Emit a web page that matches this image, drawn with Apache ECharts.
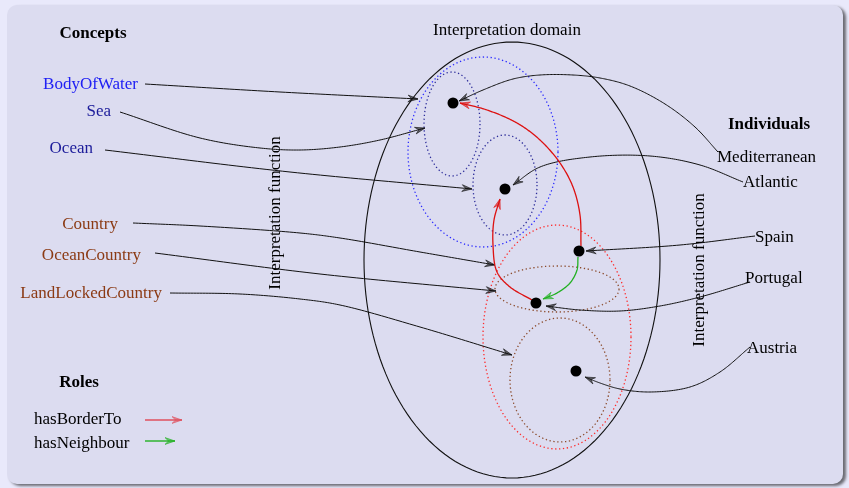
<!DOCTYPE html>
<html>
<head>
<meta charset="utf-8">
<script src="https://cdn.jsdelivr.net/npm/echarts@6/dist/echarts.min.js"></script>
<style>
html, body { margin: 0; padding: 0; background: #e9e9fb; }
#main { width: 849px; height: 488px; }
</style>
</head>
<body>
<div id="main"></div>
<script>
// concepts on the left, label anchored at its right end
var conceptNames = ['BodyOfWater', 'Sea', 'Ocean', 'Country', 'OceanCountry', 'LandLockedCountry'];
var conceptColors = ['#2020f4', '#1c1c9a', '#1c1c9a', '#8b3a14', '#8b3a14', '#8b3a14'];
var conceptLabelPos = [[138, 83], [111, 110], [93, 147], [118, 223], [141, 254], [162, 292]];
// interpreted sets: cx, cy, rx, ry
var conceptSets = [[483, 152, 75, 95], [452, 124, 28, 52], [505, 185, 32, 50], [557, 337, 74, 112], [557, 289, 62, 23], [560, 380, 50, 62]];
var setColors = ['#2a2aff', '#2d2d9a', '#2d2d9a', '#ff2a2a', '#8b4a2a', '#8b4a2a'];
var domainSet = [512, 260, 148, 218];
var conceptLinks = [
	[[145, 84], [280, 92], [418, 99]],
	[[120, 112], [200, 138], [260, 148], [300, 150], [340, 147], [380, 140], [425, 128]],
	[[105, 150], [290, 172], [472, 189]],
	[[133, 223], [200, 226], [300, 233], [340, 238], [420, 252], [495, 265]],
	[[155, 253], [320, 274], [496, 291]],
	[[170, 293], [240, 294], [300, 299], [340, 305], [420, 327], [512, 355]]
];

// individuals on the right, label anchored at its left end
var individualNames = ['Mediterranean', 'Atlantic', 'Spain', 'Portugal', 'Austria'];
var individualLabelPos = [[717, 156], [743, 181], [755, 236], [745, 277], [747, 347]];
var individualDots = [[453, 103], [505, 189], [579, 251], [536, 303], [576, 371]];
var individualLinks = [
	[[718, 152], [695, 127], [665, 104], [630, 86], [600, 78], [573, 75], [540, 75], [513, 79], [483, 90], [459, 101]],
	[[743, 182], [700, 165], [650, 156], [590, 157], [540, 167], [513, 185]],
	[[755, 236], [680, 245], [586, 251]],
	[[750, 282], [700, 297], [660, 306], [620, 311], [580, 310], [546, 306]],
	[[750, 347], [720, 372], [690, 387], [650, 392], [620, 389], [600, 383], [585, 377]]
];

// roles
var roleNames = ['hasBorderTo', 'hasNeighbour'];
var roleColors = ['#dd1111', '#22b022'];
var roleLegendColors = ['#e0505e', '#22b022'];
var roleLabelPos = [[34, 418], [34, 442]];
var roleLegendArrows = [[[145, 420], [182, 420]], [[145, 441], [175, 441]]];
var roleLinks = [
	[[581, 246], [580, 215], [573, 187], [560, 163], [540, 140], [517, 123], [487, 110], [460, 103]],
	[[532, 300], [510, 287], [497, 272], [493, 245], [494, 220], [500, 199]],
	[[578, 257], [577, 270], [570, 283], [557, 293], [543, 299]]
];
var roleLinkType = [0, 0, 1];

var headings = [
	{ name: 'Concepts', value: [93, 32], bold: true, rot: 0 },
	{ name: 'Individuals', value: [769, 123], bold: true, rot: 0 },
	{ name: 'Roles', value: [79, 381], bold: true, rot: 0 },
	{ name: 'Interpretation domain', value: [507, 29], bold: false, rot: 0 },
	{ name: 'Interpretation function', value: [276, 213], bold: false, rot: 90 },
	{ name: 'Interpretation function', value: [700, 270], bold: false, rot: 90 }
];

var FONT = '"Liberation Serif", "Times New Roman", serif';
var TEXT_DY = 2;

// centripetal catmull-rom through the pixel waypoints
function spline(pts, seg) {
	var n = pts.length;
	if (n < 3) return pts;
	var p = [[2 * pts[0][0] - pts[1][0], 2 * pts[0][1] - pts[1][1]]].concat(pts,
		[[2 * pts[n - 1][0] - pts[n - 2][0], 2 * pts[n - 1][1] - pts[n - 2][1]]]);
	var out = [];
	function d(a, b) { return Math.max(Math.pow(Math.hypot(b[0] - a[0], b[1] - a[1]), 0.5), 1e-4); }
	function mix(a, b, ta, tb, t) {
		var u = (t - ta) / (tb - ta);
		return [a[0] + (b[0] - a[0]) * u, a[1] + (b[1] - a[1]) * u];
	}
	for (var i = 1; i < p.length - 2; i++) {
		var P0 = p[i - 1], P1 = p[i], P2 = p[i + 1], P3 = p[i + 2];
		var t0 = 0, t1 = t0 + d(P0, P1), t2 = t1 + d(P1, P2), t3 = t2 + d(P2, P3);
		for (var k = 0; k < seg; k++) {
			var t = t1 + (t2 - t1) * k / seg;
			var A1 = mix(P0, P1, t0, t1, t), A2 = mix(P1, P2, t1, t2, t), A3 = mix(P2, P3, t2, t3, t);
			var B1 = mix(A1, A2, t0, t2, t), B2 = mix(A2, A3, t1, t3, t);
			out.push(mix(B1, B2, t1, t2, t));
		}
	}
	out.push(pts[n - 1]);
	return out;
}

function arrowHead(pts, color) {
	var tip = pts[pts.length - 1];
	var from = pts[0];
	for (var j = pts.length - 2; j >= 0; j--) {
		from = pts[j];
		if (Math.hypot(tip[0] - from[0], tip[1] - from[1]) > 7) break;
	}
	var dx = tip[0] - from[0], dy = tip[1] - from[1];
	var len = Math.sqrt(dx * dx + dy * dy) || 1;
	dx /= len; dy /= len;
	var L = 10, W = 3.4;
	var bx = tip[0] - dx * L, by = tip[1] - dy * L;
	return {
		type: 'polygon',
		shape: { points: [[bx + dy * W, by - dx * W], tip, [bx - dy * W, by + dx * W], [tip[0] - dx * L * 0.65, tip[1] - dy * L * 0.65]] },
		style: { fill: color, opacity: 0.6, stroke: color, lineWidth: 1 }
	};
}

function linkSeries(name, links, colorOf, width) {
	return {
		type: 'custom',
		name: name,
		coordinateSystem: 'cartesian2d',
		data: links.map(function(l, i) { return [l[0][0], l[0][1], i]; }),
		renderItem: function(params, api) {
			var i = params.dataIndex;
			var pts = spline(links[i].map(function(p) { return api.coord(p); }), 24);
			var c = colorOf(i);
			return {
				type: 'group',
				children: [{
					type: 'polyline',
					shape: { points: pts },
					style: { stroke: c, lineWidth: width, fill: null }
				}, arrowHead(pts, c)]
			};
		},
		z: 3,
		silent: true
	};
}

function ellipsePoints(api, cx, cy, rx, ry) {
	var c = api.coord([cx, cy]);
	var s = api.size([rx, ry]);
	var pts = [];
	for (var k = 0; k < 160; k++) {
		var a = k / 160 * Math.PI * 2;
		pts.push([c[0] + s[0] * Math.cos(a), c[1] + s[1] * Math.sin(a)]);
	}
	return pts;
}

function textSeries(name, data, pos, color, offset) {
	return {
		type: 'scatter',
		name: name,
		symbolSize: 0,
		itemStyle: { opacity: 1 },
		data: data,
		label: { show: true, position: pos, distance: 0, offset: offset, formatter: '{b}', fontFamily: FONT, fontSize: 17, color: color },
		silent: true,
		z: 6
	};
}

var allSets = [domainSet].concat(conceptSets);

var chartDom = document.getElementById('main');
var myChart = echarts.init(chartDom, null, { renderer: 'canvas' });
var option = {
	animation: false,
	backgroundColor: '#e9e9fb',
	grid: { left: 0, right: 0, top: 0, bottom: 0 },
	xAxis: { type: 'value', min: 0, max: 849, show: false },
	yAxis: { type: 'value', min: 0, max: 488, inverse: true, show: false },
	graphic: [{
		type: 'rect',
		z: -10,
		shape: { x: 7, y: 5, width: 836, height: 479, r: 10 },
		style: { fill: '#dcdcf0', shadowBlur: 3, shadowOffsetX: 3, shadowOffsetY: 2, shadowColor: 'rgba(0,0,0,0.55)' }
	}],
	series: [
		{
			type: 'custom',
			name: 'sets',
			coordinateSystem: 'cartesian2d',
			data: allSets,
			renderItem: function(params, api) {
				var i = params.dataIndex;
				var pts = ellipsePoints(api, api.value(0), api.value(1), api.value(2), api.value(3));
				if (i == 0) {
					return { type: 'polygon', shape: { points: pts }, style: { fill: null, stroke: '#111', lineWidth: 1.1 } };
				}
				return {
					type: 'polygon',
					shape: { points: pts },
					style: { fill: null, stroke: setColors[i - 1], lineWidth: 1.3, lineDash: [1.3, 2.6] }
				};
			},
			z: 2,
			silent: true
		},
		linkSeries('concept links', conceptLinks, function() { return '#111'; }, 1),
		linkSeries('individual links', individualLinks, function() { return '#111'; }, 1),
		linkSeries('role links', roleLinks, function(i) { return roleColors[roleLinkType[i]]; }, 1.3),
		linkSeries('role legend', roleLegendArrows, function(i) { return roleLegendColors[i]; }, 1.4),
		{
			type: 'scatter',
			name: 'individuals',
			data: individualDots,
			symbol: 'circle',
			symbolSize: 11,
			itemStyle: { color: '#000', opacity: 1 },
			z: 5,
			silent: true
		},
		textSeries('concept labels', conceptNames.map(function(n, i) {
			return { name: n, value: conceptLabelPos[i], label: { color: conceptColors[i] } };
		}), 'left', '#000', [0, TEXT_DY]),
		textSeries('individual labels', individualNames.map(function(n, i) {
			return { name: n, value: individualLabelPos[i] };
		}), 'right', '#000', [0, TEXT_DY]),
		textSeries('role labels', roleNames.map(function(n, i) {
			return { name: n, value: roleLabelPos[i] };
		}), 'right', '#000', [0, TEXT_DY]),
		textSeries('headings', headings.map(function(h) {
			return { name: h.name, value: h.value, label: { fontWeight: h.bold ? 'bold' : 'normal', rotate: h.rot, offset: h.rot ? [0, 0] : [0, TEXT_DY] } };
		}), 'inside', '#000', [0, TEXT_DY])
	]
};
option && myChart.setOption(option);
</script>
</body>
</html>
